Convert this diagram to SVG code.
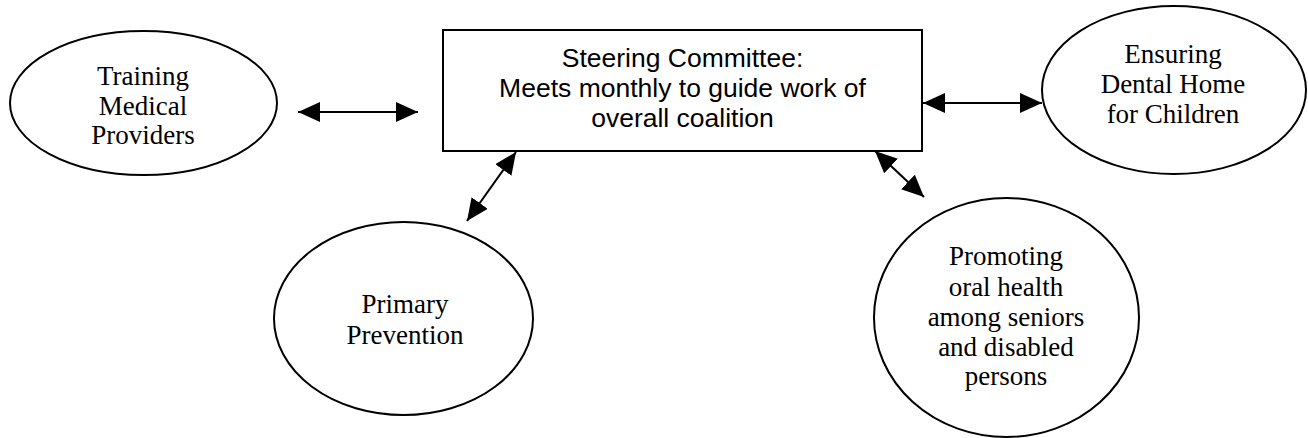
<svg xmlns="http://www.w3.org/2000/svg" width="1308" height="438" viewBox="0 0 1308 438">
<style>
.shape{fill:#fff;stroke:#000;stroke-width:2}
.serif{font-family:"Liberation Serif","Times New Roman",serif;font-size:27px;fill:#000;text-anchor:middle}
.sans{font-family:"Liberation Sans",Arial,sans-serif;font-size:26.5px;fill:#000;text-anchor:middle}
.conn{stroke:#000;stroke-width:2;fill:none;marker-start:url(#ah);marker-end:url(#ah)}
</style>
<defs>
<marker id="ah" viewBox="0 0 22 20" markerWidth="22" markerHeight="20" refX="22" refY="10" orient="auto-start-reverse" markerUnits="userSpaceOnUse">
<path d="M0,0 L22,10 L0,20 z" fill="#000"/>
</marker>
</defs>
<rect width="1308" height="438" fill="#fff"/>
<g id="steering">
<rect class="shape" x="443" y="30" width="479" height="121"/>
<text class="sans" x="682.5" y="67">Steering Committee:</text>
<text class="sans" x="682.5" y="97">Meets monthly to guide work of</text>
<text class="sans" x="682.5" y="127">overall coalition</text>
</g>
<g id="training">
<ellipse class="shape" cx="143.5" cy="103" rx="133.5" ry="72"/>
<text class="serif" x="143" y="85">Training</text>
<text class="serif" x="143" y="115">Medical</text>
<text class="serif" x="143" y="144">Providers</text>
</g>
<g id="ensuring">
<ellipse class="shape" cx="1174" cy="90" rx="132" ry="84"/>
<text class="serif" x="1173" y="63">Ensuring</text>
<text class="serif" x="1173" y="93">Dental Home</text>
<text class="serif" x="1173" y="123">for Children</text>
</g>
<g id="primary">
<ellipse class="shape" cx="403.5" cy="318.5" rx="129.5" ry="96.5"/>
<text class="serif" x="405" y="313">Primary</text>
<text class="serif" x="405" y="344">Prevention</text>
</g>
<g id="promoting">
<ellipse class="shape" cx="1006.5" cy="317.5" rx="132.5" ry="119.5"/>
<text class="serif" x="1006" y="265">Promoting</text>
<text class="serif" x="1006" y="296">oral health</text>
<text class="serif" x="1006" y="326">among seniors</text>
<text class="serif" x="1006" y="356">and disabled</text>
<text class="serif" x="1006" y="385">persons</text>
</g>
<g id="connectors">
<line class="conn" x1="298" y1="112" x2="418" y2="112"/>
<line class="conn" x1="923" y1="103" x2="1042" y2="103"/>
<line class="conn" x1="516" y1="152" x2="467" y2="221"/>
<line class="conn" x1="875" y1="151" x2="924" y2="197"/>
</g>
</svg>
